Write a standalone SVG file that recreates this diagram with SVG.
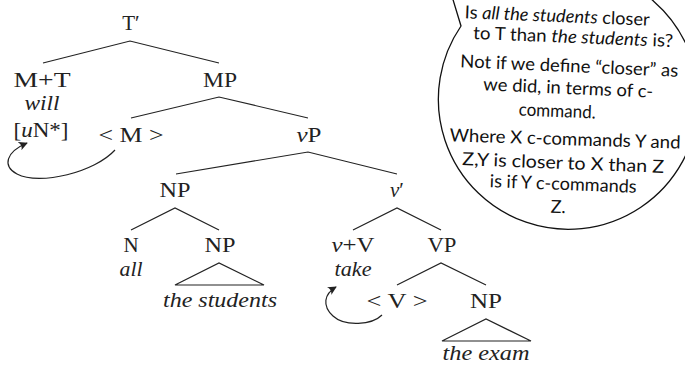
<svg xmlns="http://www.w3.org/2000/svg" width="685" height="365" viewBox="0 0 685 365">
<style>
.n{font-family:"Liberation Serif","DejaVu Serif",serif;font-size:21px;fill:#222;text-anchor:middle}
.i{font-style:italic}
.e{fill:none;stroke:#222;stroke-width:1.2}
.b{font-family:Lato,"Open Sans",sans-serif;font-size:18px;fill:#111;text-anchor:middle}
</style>
<defs>
<marker id="ah" viewBox="0 0 10 10" refX="9" refY="5" markerWidth="9" markerHeight="9" markerUnits="userSpaceOnUse" orient="auto">
<path d="M0,0 Q4,5 0,10 L10,5 Z" fill="#222"/>
</marker>
</defs>
<g id="bubble">
<path d="M444,-30 L461,26 A130 130 0 1 0 542,-28 L470,-40 Z" fill="#fff" stroke="#111" stroke-width="1.3"/>
<text class="b" x="557" y="22" transform="rotate(2.3 557 22)" textLength="185" lengthAdjust="spacingAndGlyphs">Is <tspan font-style="italic">all the students</tspan> closer</text>
<text class="b" x="573" y="43" transform="rotate(2.3 573 43)" textLength="200" lengthAdjust="spacingAndGlyphs">to T than <tspan font-style="italic">the students</tspan> is?</text>
<text class="b" x="569" y="72" transform="rotate(2.5 569 72)" textLength="218" lengthAdjust="spacingAndGlyphs">Not if we define “closer” as</text>
<text class="b" x="568" y="94" transform="rotate(2.5 568 94)" textLength="170" lengthAdjust="spacingAndGlyphs">we did, in terms of c-</text>
<text class="b" x="557" y="117" transform="rotate(2.3 557 117)" textLength="77" lengthAdjust="spacingAndGlyphs">command.</text>
<text class="b" x="565" y="145" transform="rotate(1.8 565 145)" textLength="231" lengthAdjust="spacingAndGlyphs">Where X c-commands Y and</text>
<text class="b" x="563" y="169" transform="rotate(2.2 563 169)" textLength="202" lengthAdjust="spacingAndGlyphs">Z,Y is closer to X than Z</text>
<text class="b" x="563" y="190" transform="rotate(2.2 563 190)" textLength="147" lengthAdjust="spacingAndGlyphs">is if Y c-commands</text>
<text class="b" x="558" y="213" transform="rotate(2 558 213)">Z.</text>
</g>
<g id="connectors">
<path class="e" d="M43,63 L130,41 L219,63"/>
<path class="e" d="M131,118 L219,97 L308,118"/>
<path class="e" d="M176,174 L308,152 L397,174"/>
<path class="e" d="M131,230 L175,208 L219,230"/>
<path class="e" d="M175,285 L219,263 L264,285 Z"/>
<path class="e" d="M353,230 L397,208 L441,230"/>
<path class="e" d="M397,285 L441,263 L486,285"/>
<path class="e" d="M442,341 L486,319 L531,341 Z"/>
<path class="e" d="M115,150 C95,172 40,186 17,174 C2,166 6,152 27,143" marker-end="url(#ah)"/>
<path class="e" d="M382,315 C372,325 345,327 333,316 C322,306 324,294 336,287" marker-end="url(#ah)"/>
</g>
<g id="Tbar"><text class="n" x="131" y="30">T′</text></g>
<g id="MT"><text class="n" x="42" y="87" textLength="57" lengthAdjust="spacingAndGlyphs">M+T</text><text class="n i" x="42" y="110" textLength="35" lengthAdjust="spacingAndGlyphs">will</text><text class="n" x="41" y="137" textLength="55" lengthAdjust="spacingAndGlyphs">[<tspan font-style="italic">u</tspan>N*]</text></g>
<g id="MP"><text class="n" x="220" y="87" textLength="34" lengthAdjust="spacingAndGlyphs">MP</text></g>
<g id="Mtrace"><text class="n" x="131" y="142" textLength="65" lengthAdjust="spacingAndGlyphs">&lt; M &gt;</text></g>
<g id="vP"><text class="n" x="309" y="142" textLength="25" lengthAdjust="spacingAndGlyphs"><tspan font-style="italic">v</tspan>P</text></g>
<g id="NP1"><text class="n" x="175" y="197" textLength="31" lengthAdjust="spacingAndGlyphs">NP</text></g>
<g id="vbar"><text class="n" x="397" y="197"><tspan font-style="italic">v</tspan>′</text></g>
<g id="N"><text class="n" x="131" y="252">N</text><text class="n i" x="131" y="276" textLength="23" lengthAdjust="spacingAndGlyphs">all</text></g>
<g id="NP2"><text class="n" x="220" y="252" textLength="31" lengthAdjust="spacingAndGlyphs">NP</text><text class="n i" x="220" y="307" textLength="114" lengthAdjust="spacingAndGlyphs">the students</text></g>
<g id="vV"><text class="n" x="353" y="252" textLength="43" lengthAdjust="spacingAndGlyphs"><tspan font-style="italic">v</tspan>+V</text><text class="n i" x="353" y="276" textLength="37" lengthAdjust="spacingAndGlyphs">take</text></g>
<g id="VP"><text class="n" x="442" y="252" textLength="29" lengthAdjust="spacingAndGlyphs">VP</text></g>
<g id="Vtrace"><text class="n" x="397" y="308" textLength="61" lengthAdjust="spacingAndGlyphs">&lt; V &gt;</text></g>
<g id="NP3"><text class="n" x="486" y="308" textLength="32" lengthAdjust="spacingAndGlyphs">NP</text><text class="n i" x="486" y="360" textLength="87" lengthAdjust="spacingAndGlyphs">the exam</text></g>
</svg>
